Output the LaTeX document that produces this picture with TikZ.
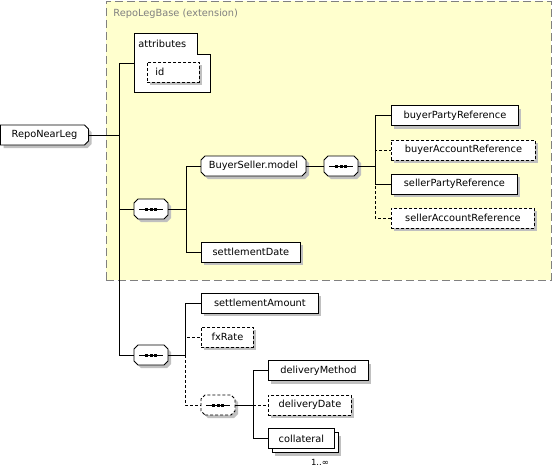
\documentclass[tikz,border=0pt]{standalone}
\usepackage{fontspec}
\setmainfont{DejaVu Sans}
\usepackage{tikz}
\usetikzlibrary{positioning}
\usetikzlibrary{shapes,shadows}
\definecolor{shadowgray}{RGB}{192,192,192}
\definecolor{extyellow}{RGB}{255,255,206}
\definecolor{extborder}{RGB}{128,128,128}
% box with cut corners (left cut may be zero)
\newdimen\cbxa \newdimen\cbxb \newdimen\cbya \newdimen\cbyb \newdimen\cbl
\pgfkeys{/pgf/cut left/.initial=4pt}
\makeatletter
\pgfdeclareshape{cutbox}{
	\inheritsavedanchors[from=rectangle]
	\inheritanchorborder[from=rectangle]
	\inheritanchor[from=rectangle]{center}
	\inheritanchor[from=rectangle]{north}
	\inheritanchor[from=rectangle]{south}
	\inheritanchor[from=rectangle]{east}
	\inheritanchor[from=rectangle]{west}
	\inheritanchor[from=rectangle]{north east}
	\inheritanchor[from=rectangle]{north west}
	\inheritanchor[from=rectangle]{south east}
	\inheritanchor[from=rectangle]{south west}
	\inheritanchor[from=rectangle]{base}
	\inheritanchor[from=rectangle]{mid}
	\backgroundpath{
		\pgfmathsetlength\cbl{\pgfkeysvalueof{/pgf/cut left}}%
		\southwest \cbxa=\pgf@x \cbya=\pgf@y
		\northeast \cbxb=\pgf@x \cbyb=\pgf@y
		\pgfpathmoveto{\pgfqpoint{\dimexpr\cbxa+\cbl\relax}{\cbya}}%
		\pgfpathlineto{\pgfqpoint{\dimexpr\cbxb-4pt\relax}{\cbya}}%
		\pgfpathlineto{\pgfqpoint{\cbxb}{\dimexpr\cbya+4pt\relax}}%
		\pgfpathlineto{\pgfqpoint{\cbxb}{\dimexpr\cbyb-4pt\relax}}%
		\pgfpathlineto{\pgfqpoint{\dimexpr\cbxb-4pt\relax}{\cbyb}}%
		\pgfpathlineto{\pgfqpoint{\dimexpr\cbxa+\cbl\relax}{\cbyb}}%
		\pgfpathlineto{\pgfqpoint{\cbxa}{\dimexpr\cbyb-\cbl\relax}}%
		\pgfpathlineto{\pgfqpoint{\cbxa}{\dimexpr\cbya+\cbl\relax}}%
		\pgfpathclose
	}
}
\makeatother
\tikzstyle{dropgray} = [general shadow={fill=shadowgray, shadow xshift=3pt, shadow yshift=-3pt}]
\tikzstyle{elem} = [rectangle, draw=black, fill=white, dropgray, minimum height=20pt, inner xsep=5pt, inner ysep=0pt, anchor=west, text centered]
\tikzstyle{optelem} = [elem, dash pattern=on 3pt off 2pt]
\tikzstyle{multielem} = [rectangle, draw=black, fill=white, minimum height=20pt, inner xsep=5pt, inner ysep=0pt, anchor=west, text centered,
	general shadow={fill=shadowgray, shadow xshift=7pt, shadow yshift=-7pt},
	general shadow={fill=white, draw=black, shadow xshift=4pt, shadow yshift=-4pt}]
\tikzstyle{group} = [cutbox, draw=black, fill=white, dropgray, minimum height=20pt, inner xsep=5pt, inner ysep=0pt, outer sep=0pt, anchor=west, text centered]
\tikzstyle{rootelem} = [group, cut left=0pt]
\tikzstyle{seq} = [group, minimum width=34pt, path picture={
	\draw[solid, black, line width=0.8pt] ([xshift=5pt]path picture bounding box.west) -- ([xshift=-5pt]path picture bounding box.east);
	\foreach \dx in {-4.5,0,4.5} \fill[black] ([xshift=\dx pt]path picture bounding box.center) +(-1.5pt,-1.5pt) rectangle +(1.5pt,1.5pt);}]
\tikzstyle{optseq} = [seq, dash pattern=on 3pt off 2pt]
\tikzstyle{extbox} = [rectangle, draw=extborder, fill=extyellow, dash pattern=on 8pt off 4pt, anchor=north west, inner sep=0pt]
\tikzstyle{line} = [draw]
\tikzstyle{optline} = [draw, dash pattern=on 3pt off 2pt]

\begin{document}
\begin{tikzpicture}[x=1pt, y=-1pt, line width=0.9pt, font=\fontsize{9.8}{11}\selectfont]
			\useasboundingbox (0,0) rectangle (552,467);
			% Extension area
			\node [extbox, minimum width=445pt, minimum height=279pt] (base) at (105.5,0.5) {};
			\node [anchor=west, text=extborder, inner sep=0pt] (basename) at (113,14) {RepoLegBase (extension)};
			\node [rectangle, minimum width=76pt, minimum height=59pt, anchor=north west, inner sep=0pt] (attr) at (134,33) {};
			\path [draw, fill=white] (attr.north west) -- ([xshift=-13pt]attr.north east) -- ([xshift=-13pt,yshift=-21pt]attr.north east)
				-- ([yshift=-21pt]attr.north east) -- (attr.south east) -- (attr.south west) -- cycle;
			\node [anchor=west, inner sep=0pt] (attrname) at (138,44) {attributes};
			% Place nodes
			\node [rootelem, minimum width=88pt] (root) at (0.5,135) {RepoNearLeg};
			\node [optelem, minimum width=52pt, text width=36pt, align=left, inner xsep=8pt] (id) at (147,72) {id};
			\node [seq] (seqA) at (134,209) {};
			\node [group, minimum width=105pt] (bsm) at (201,166) {BuyerSeller.model};
			\node [elem, minimum width=99pt] (sdate) at (201,252) {settlementDate};
			\node [seq] (seqB) at (324,166) {};
			\node [elem, minimum width=127pt] (bpr) at (391,115.5) {buyerPartyReference};
			\node [optelem, minimum width=144pt] (bar) at (391,150) {buyerAccountReference};
			\node [elem, minimum width=126pt] (spr) at (391,184) {sellerPartyReference};
			\node [optelem, minimum width=143pt] (sar) at (391,218) {sellerAccountReference};
			\node [seq] (seqC) at (134,355) {};
			\node [elem, minimum width=117pt] (samt) at (201,303) {settlementAmount};
			\node [optelem, minimum width=52pt] (fx) at (201,337) {fxRate};
			\node [optseq] (seqD) at (201,405) {};
			\node [elem, minimum width=100pt] (dm) at (268,370.5) {deliveryMethod};
			\node [optelem, minimum width=83pt] (dd) at (268,405) {deliveryDate};
			\node [multielem, minimum width=66pt] (coll) at (268,438.5) {collateral};
			\node [inner sep=0pt, font=\fontsize{8.5}{10}\selectfont] (collmult) at (320,462) {1..∞};
			% Draw edges
			\coordinate (jR) at (119,135);
			\path [line] (root.east) -- (jR);
			\path [line] (jR) |- (attr.west);
			\path [line] (jR) |- (seqA.west);
			\path [line] (jR) |- (seqC.west);
			\coordinate (jA) at ([xshift=18pt]seqA.east);
			\path [line] (seqA.east) -- (jA);
			\path [line] (jA) |- (bsm.west);
			\path [line] (jA) |- (sdate.west);
			\path [line] (bsm.east) -- (seqB.west);
			\coordinate (jB) at ([xshift=17pt]seqB.east);
			\path [line] (seqB.east) -- (jB);
			\path [line] (jB) |- (bpr.west);
			\path [line] (jB) |- (spr.west);
			\path [optline] (jB) |- (bar.west);
			\path [optline] (jB) |- (sar.west);
			\coordinate (jC) at ([xshift=17pt]seqC.east);
			\path [line] (seqC.east) -- (jC);
			\path [line] (jC) |- (samt.west);
			\path [optline] (jC) |- (fx.west);
			\path [optline] (jC) |- (seqD.west);
			\coordinate (jD) at ([xshift=18pt]seqD.east);
			\path [line] (seqD.east) -- (jD);
			\path [line] (jD) |- (dm.west);
			\path [line] (jD) |- (coll.west);
			\path [optline] (jD) -- (dd.west);
\end{tikzpicture}
\end{document}
